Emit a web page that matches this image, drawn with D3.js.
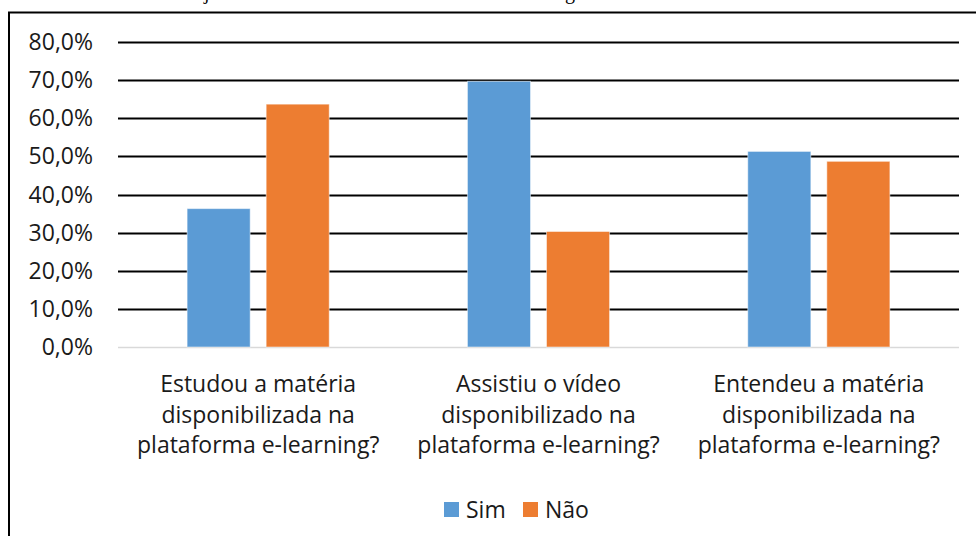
<!DOCTYPE html>
<html>
<head>
<meta charset="utf-8">
<script src="https://cdn.jsdelivr.net/npm/d3@7"></script>
<style>
  body { margin: 0; background: #fff; }
  svg { display: block; }
</style>
</head>
<body>
<svg id="chart" width="976" height="536"></svg>
<script>
// chart data
const categories = [
  ["Estudou a matéria", "disponibilizada na", "plataforma e-learning?"],
  ["Assistiu o vídeo", "disponibilizado na", "plataforma e-learning?"],
  ["Entendeu a matéria", "disponibilizada na", "plataforma e-learning?"]
];
const seriesNames = ["Sim", "Não"];
const simValues = [36.3, 69.7, 51.3];
const naoValues = [63.7, 30.3, 48.7];
const yTicks = [0, 10, 20, 30, 40, 50, 60, 70, 80];
const colors = ["#5B9BD5", "#ED7D31"];
const titleText = "Gráfico 12 – Objetivos dos alunos sobre o ambiente e-learning";

const font = "'Open Sans', sans-serif";
const svg = d3.select('#chart');

// title, mostly cut off at the top of the picture
svg.append('text')
  .attr('x', 575)
  .attr('y', -1)
  .attr('text-anchor', 'end')
  .style('font-family', "'Liberation Serif', serif")
  .style('font-size', '20px')
  .attr('fill', '#000')
  .text(titleText);

// chart frame
svg.append('rect')
  .attr('x', 9)
  .attr('y', 12.5)
  .attr('width', 1000)
  .attr('height', 600)
  .attr('fill', '#fff')
  .attr('stroke', '#000')
  .attr('stroke-width', 2);

const plot = { left: 118, right: 959, top: 42, bottom: 347 };

const y = d3.scaleLinear()
  .domain([0, 80])
  .range([plot.bottom, plot.top]);

const x = d3.scaleBand()
  .domain(d3.range(categories.length))
  .range([plot.left, plot.right])
  .padding(0);

// gridlines
svg.append('g')
  .selectAll('line')
  .data(yTicks)
  .enter().append('line')
  .attr('x1', plot.left)
  .attr('x2', plot.right)
  .attr('y1', d => Math.round(y(d)) + 0.5)
  .attr('y2', d => Math.round(y(d)) + 0.5)
  .attr('stroke', d => d === 0 ? '#d9d9d9' : '#000')
  .attr('stroke-width', d => d === 0 ? 1.5 : 2);

// y tick labels
svg.append('g')
  .selectAll('text')
  .data(yTicks)
  .enter().append('text')
  .attr('x', 93)
  .attr('y', d => y(d) + 8)
  .attr('text-anchor', 'end')
  .style('font-family', font)
  .style('font-size', '23px')
  .attr('fill', '#1a1a1a')
  .text(d => d.toFixed(1).replace('.', ',') + '%');

// bars
const bw = x.bandwidth();
const barWidth = bw * 0.225;
const barGap = bw * 0.057;
const series = [simValues, naoValues];

series.forEach((values, s) => {
  svg.append('g')
    .selectAll('rect')
    .data(values)
    .enter().append('rect')
    .attr('x', (d, i) => x(i) + bw / 2 - barWidth - barGap / 2 + s * (barWidth + barGap))
    .attr('y', d => y(d))
    .attr('width', barWidth)
    .attr('height', d => y(0) - y(d))
    .attr('fill', colors[s])
    .attr('stroke', '#fff')
    .attr('stroke-opacity', 0.5)
    .attr('stroke-width', 1);
});

// category labels
const catLabels = svg.append('g')
  .selectAll('text')
  .data(categories)
  .enter().append('text')
  .attr('text-anchor', 'middle')
  .style('font-family', font)
  .style('font-size', '23px')
  .attr('fill', '#1a1a1a');

catLabels.selectAll('tspan')
  .data((d, i) => d.map(line => ({ line, i })))
  .enter().append('tspan')
  .attr('x', d => x(d.i) + bw / 2)
  .attr('y', (d, j) => 392 + j * 30.5)
  .text(d => d.line);

// legend
const legendX = [444, 523];
const legend = svg.append('g')
  .selectAll('g')
  .data(seriesNames)
  .enter().append('g')
  .attr('transform', (d, i) => `translate(${legendX[i]},502)`);

legend.append('rect')
  .attr('width', 15)
  .attr('height', 15)
  .attr('fill', (d, i) => colors[i]);

legend.append('text')
  .attr('x', 22)
  .attr('y', 16)
  .style('font-family', font)
  .style('font-size', '23px')
  .attr('fill', '#1a1a1a')
  .text(d => d);
</script>
</body>
</html>
